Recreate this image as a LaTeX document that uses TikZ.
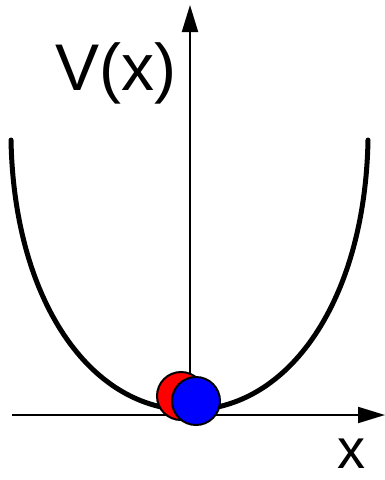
\documentclass[tikz,border=0pt]{standalone}
\usepackage{fontspec}
\setmainfont{Liberation Sans}
\usetikzlibrary{arrows.meta}
\begin{document}
\begin{tikzpicture}[x=1pt,y=-1pt,
		axe/.style={line width=2pt,-{Triangle[length=27pt,width=16pt]}},
		bille/.style={draw=black,line width=2pt}]
		\useasboundingbox (0,0) rectangle (385,480);
		\coordinate (O) at (190,415);
		\coordinate (xmin) at (12,415);
		\coordinate (xmax) at (385,415);
		\coordinate (ymax) at (190,5);
		\draw[axe] (xmin) to (xmax);
		\draw[axe] (O) to (ymax);
		\draw[line width=5pt,line cap=round] (11,140) .. controls (14,300) and (90,410) .. (189.5,410) .. controls (289,410) and (365,300) .. (368,140);%puits
		\filldraw[bille,fill=red] (181,396) circle (24pt);
		\filldraw[bille,fill=blue] (196,401) circle (24pt);
		
		\node[anchor=base west,inner sep=0pt] (Vx) at (55,90) {\fontsize{66}{70}\selectfont V(x)};
		\node (x) at (351.5,453.5) {\fontsize{56}{60}\selectfont x};
		
	\end{tikzpicture}
\end{document}
